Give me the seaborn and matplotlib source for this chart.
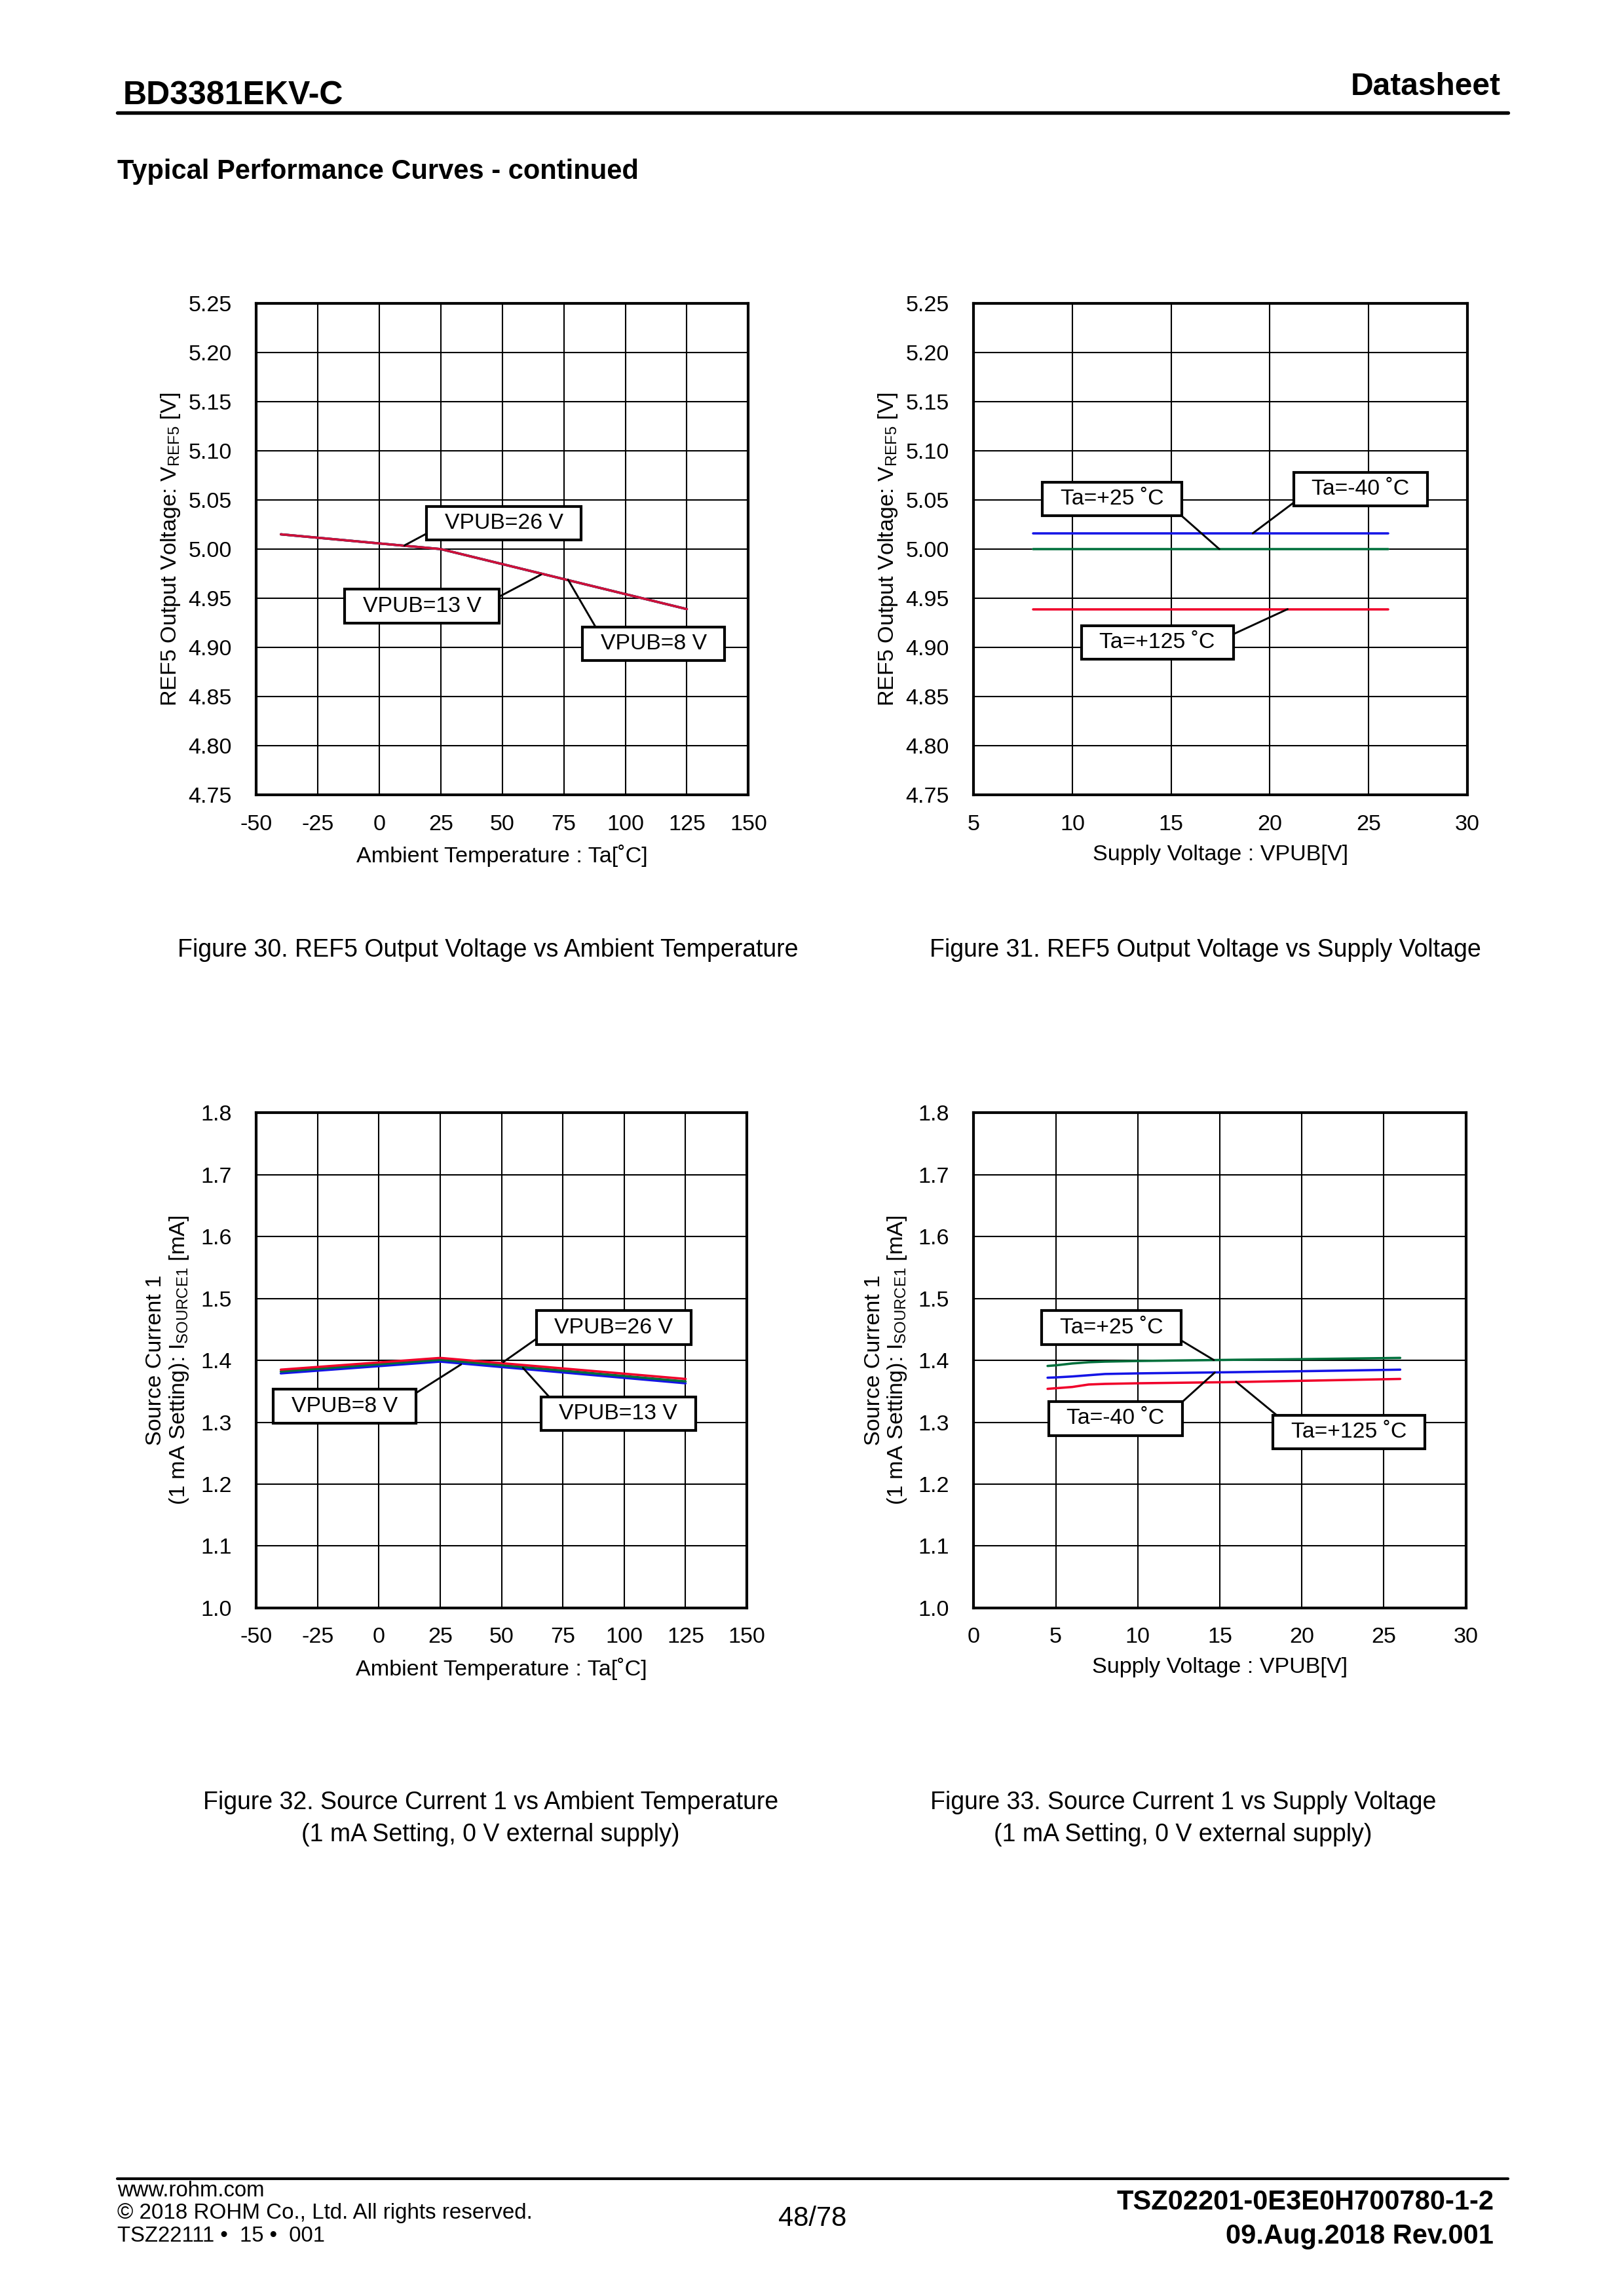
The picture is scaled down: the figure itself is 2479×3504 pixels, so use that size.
import matplotlib
matplotlib.use("Agg")
import matplotlib.pyplot as plt
import seaborn as sns
import numpy as np
from matplotlib.lines import Line2D
from matplotlib.path import Path

# ---------------- data ----------------
# Figure 30: REF5 vs Ta
ta_30 = [-40, 25, 125]
ref5_ta_8v = [5.015, 5.000, 4.939]
ref5_ta_13v = [5.015, 5.000, 4.939]
ref5_ta_26v = [5.015, 5.000, 4.939]

# Figure 31: REF5 vs VPUB
vpub_31 = [8, 13, 26]
ref5_v_m40 = [5.016, 5.016, 5.016]
ref5_v_25 = [5.000, 5.000, 5.000]
ref5_v_125 = [4.939, 4.939, 4.939]

# Figure 32: Isource1 vs Ta
ta_32 = [-40, 25, 125]
isrc_ta_8v = [1.379, 1.398, 1.363]
isrc_ta_13v = [1.382, 1.401, 1.366]
isrc_ta_26v = [1.385, 1.404, 1.370]

# Figure 33: Isource1 vs VPUB
vpub_33 = [4.5, 5, 6, 7, 8, 10, 13, 16, 20, 26]
isrc_v_25 = [1.391, 1.392, 1.395, 1.397, 1.398, 1.399, 1.400, 1.401, 1.402, 1.404]
isrc_v_m40 = [1.372, 1.3725, 1.374, 1.376, 1.378, 1.379, 1.380, 1.381, 1.3825, 1.385]
isrc_v_125 = [1.354, 1.355, 1.357, 1.361, 1.362, 1.363, 1.364, 1.365, 1.367, 1.370]

ta_ticks = [-50, -25, 0, 25, 50, 75, 100, 125, 150]
v31_ticks = [5, 10, 15, 20, 25, 30]
v33_ticks = [0, 5, 10, 15, 20, 25, 30]
ref5_ticks = [4.75, 4.80, 4.85, 4.90, 4.95, 5.00, 5.05, 5.10, 5.15, 5.20, 5.25]
isrc_ticks = [1.0, 1.1, 1.2, 1.3, 1.4, 1.5, 1.6, 1.7, 1.8]

BLUE = "#1414e6"
GREEN = "#00703c"
RED = "#f0002a"

# ---------------- style ----------------
sns.set_theme(style="white")
plt.rcParams["font.family"] = ["Liberation Sans", "DejaVu Sans"]
plt.rcParams["mathtext.default"] = "regular"
plt.rcParams["axes.unicode_minus"] = False

FS_TICK = 8.2
FS_LAB = 8.2
FS_ANN = 8.1
FS_CAP = 9.0

fig = plt.figure(figsize=(2479 / 300, 3504 / 300), dpi=300)
fig.patch.set_facecolor("white")


def wide_box(x0, y0, width, height, mutation_size):
    px = 0.82 * mutation_size
    py = 0.30 * mutation_size
    xa, ya = x0 - px, y0 - py
    xb, yb = x0 + width + px, y0 + height + py
    return Path([(xa, ya), (xb, ya), (xb, yb), (xa, yb), (xa, ya)],
                [Path.MOVETO, Path.LINETO, Path.LINETO, Path.LINETO, Path.CLOSEPOLY])


def style_axes(ax, xlim, xticks, ylim, yticks, yfmt):
    ax.set_xlim(*xlim)
    ax.set_ylim(*ylim)
    ax.set_xticks(xticks)
    ax.set_yticks(yticks)
    ax.set_xticklabels([str(t) for t in xticks])
    ax.set_yticklabels([yfmt.format(t) for t in yticks])
    ax.grid(True, color="black", lw=0.5)
    ax.set_axisbelow(True)
    for s in ax.spines.values():
        s.set_visible(True)
        s.set_color("black")
        s.set_linewidth(1.0)
    ax.tick_params(axis="both", length=0, labelsize=FS_TICK, colors="black")
    ax.tick_params(axis="x", pad=7)
    ax.tick_params(axis="y", pad=9)
    ax.set_facecolor("white")


def annot(ax, text, xy, xytext, relpos):
    ax.annotate(text, xy=xy, xytext=xytext, textcoords="data",
                ha="center", va="center", fontsize=FS_ANN, color="black",
                bbox=dict(boxstyle=wide_box, fc="white", ec="black", lw=1.0),
                arrowprops=dict(arrowstyle="-", color="black", lw=0.7,
                                shrinkA=0, shrinkB=0, relpos=relpos), zorder=5)


LW = 0.85

# ---- Figure 30 ----
ax1 = fig.add_axes([0.1578, 0.6537, 0.3030, 0.2143])
sns.lineplot(x=ta_30, y=ref5_ta_8v, ax=ax1, color=BLUE, lw=LW, legend=False)
sns.lineplot(x=ta_30, y=ref5_ta_13v, ax=ax1, color=GREEN, lw=LW, legend=False)
sns.lineplot(x=ta_30, y=ref5_ta_26v, ax=ax1, color="#d0103a", lw=LW, legend=False)
style_axes(ax1, (-50, 150), ta_ticks, (4.75, 5.25), ref5_ticks, "{:.2f}")
ax1.set_xlabel("Ambient Temperature : Ta[˚C]", fontsize=FS_LAB, color="black")
ax1.set_ylabel("REF5 Output Voltage: V$_{REF5}$ [V]", fontsize=FS_LAB, color="black")
ax1.xaxis.set_label_coords(0.5, -0.10)
ax1.yaxis.set_label_coords(-0.151, 0.5)
annot(ax1, "VPUB=26 V", (10.2, 5.0037), (50.6, 5.0265), (0.0, 0.45))
annot(ax1, "VPUB=13 V", (65.7, 4.974), (17.35, 4.942), (1.0, 0.5))
annot(ax1, "VPUB=8 V", (76.7, 4.969), (111.5, 4.904), (0.0, 0.9))

# ---- Figure 31 ----
ax2 = fig.add_axes([0.5996, 0.6537, 0.3039, 0.2143])
sns.lineplot(x=vpub_31, y=ref5_v_m40, ax=ax2, color=BLUE, lw=LW, legend=False)
sns.lineplot(x=vpub_31, y=ref5_v_25, ax=ax2, color=GREEN, lw=LW, legend=False)
sns.lineplot(x=vpub_31, y=ref5_v_125, ax=ax2, color=RED, lw=LW, legend=False)
style_axes(ax2, (5, 30), v31_ticks, (4.75, 5.25), ref5_ticks, "{:.2f}")
ax2.set_xlabel("Supply Voltage : VPUB[V]", fontsize=FS_LAB, color="black")
ax2.set_ylabel("REF5 Output Voltage: V$_{REF5}$ [V]", fontsize=FS_LAB, color="black")
ax2.xaxis.set_label_coords(0.5, -0.10)
ax2.yaxis.set_label_coords(-0.151, 0.5)
annot(ax2, "Ta=+25 ˚C", (17.44, 5.000), (12.0, 5.051), (1.0, 0.45))
annot(ax2, "Ta=-40 ˚C", (19.13, 5.016), (24.6, 5.061), (0.0, 0.5))
annot(ax2, "Ta=+125 ˚C", (20.9, 4.939), (14.3, 4.905), (1.0, 0.5))

# ---- Figure 32 ----
ax3 = fig.add_axes([0.1578, 0.2997, 0.3021, 0.2156])
sns.lineplot(x=ta_32, y=isrc_ta_8v, ax=ax3, color=BLUE, lw=LW, legend=False)
sns.lineplot(x=ta_32, y=isrc_ta_13v, ax=ax3, color=GREEN, lw=LW, legend=False)
sns.lineplot(x=ta_32, y=isrc_ta_26v, ax=ax3, color=RED, lw=LW, legend=False)
style_axes(ax3, (-50, 150), ta_ticks, (1.0, 1.8), isrc_ticks, "{:.1f}")
ax3.set_xlabel("Ambient Temperature : Ta[˚C]", fontsize=FS_LAB, color="black")
ax3.set_ylabel("Source Current 1\n(1 mA Setting): I$_{SOURCE1}$ [mA]",
               fontsize=FS_LAB, color="black", linespacing=1.1)
ax3.xaxis.set_label_coords(0.5, -0.10)
ax3.yaxis.set_label_coords(-0.134, 0.5)
annot(ax3, "VPUB=26 V", (50.7, 1.3973), (95.7, 1.453), (0.0, 0.57))
annot(ax3, "VPUB=8 V", (33.5, 1.3935), (-13.95, 1.326), (1.0, 0.58))
annot(ax3, "VPUB=13 V", (58.7, 1.388), (97.6, 1.3135), (0.0, 0.8))

# ---- Figure 33 ----
ax4 = fig.add_axes([0.5996, 0.2997, 0.3030, 0.2156])
sns.lineplot(x=vpub_33, y=isrc_v_m40, ax=ax4, color=BLUE, lw=LW, legend=False)
sns.lineplot(x=vpub_33, y=isrc_v_25, ax=ax4, color=GREEN, lw=LW, legend=False)
sns.lineplot(x=vpub_33, y=isrc_v_125, ax=ax4, color=RED, lw=LW, legend=False)
style_axes(ax4, (0, 30), v33_ticks, (1.0, 1.8), isrc_ticks, "{:.1f}")
ax4.set_xlabel("Supply Voltage : VPUB[V]", fontsize=FS_LAB, color="black")
ax4.set_ylabel("Source Current 1\n(1 mA Setting): I$_{SOURCE1}$ [mA]",
               fontsize=FS_LAB, color="black", linespacing=1.1)
ax4.xaxis.set_label_coords(0.5, -0.10)
ax4.yaxis.set_label_coords(-0.132, 0.5)
annot(ax4, "Ta=+25 ˚C", (14.64, 1.4005), (8.4, 1.453), (1.0, 0.4))
annot(ax4, "Ta=-40 ˚C", (14.70, 1.3805), (8.65, 1.306), (1.0, 0.53))
annot(ax4, "Ta=+125 ˚C", (15.99, 1.3655), (22.86, 1.284), (0.0, 0.76))

# ---------------- page text ----------------
def fy(y):  # shrunk-image y -> figure fraction
    return 1 - y / 1568.0


def fx(x):
    return x / 1109.0


fig.text(fx(84), fy(71), "BD3381EKV-C", fontsize=12, fontweight="bold",
         ha="left", va="baseline", color="black")
fig.text(fx(1025), fy(65), "Datasheet", fontsize=11.5, fontweight="bold",
         ha="right", va="baseline", color="black")
fig.add_artist(Line2D([fx(80), fx(1030)], [fy(77), fy(77)], color="black", lw=1.3))
fig.text(fx(80), fy(122), "Typical Performance Curves - continued", fontsize=10,
         fontweight="bold", ha="left", va="baseline", color="black")

fig.text(fx(333), fy(649), "Figure 30. REF5 Output Voltage vs Ambient Temperature",
         fontsize=FS_CAP, ha="center", va="center", color="black")
fig.text(fx(823), fy(649), "Figure 31. REF5 Output Voltage vs Supply Voltage",
         fontsize=FS_CAP, ha="center", va="center", color="black")
fig.text(fx(335), fy(1231), "Figure 32. Source Current 1 vs Ambient Temperature",
         fontsize=FS_CAP, ha="center", va="center", color="black")
fig.text(fx(335), fy(1253), "(1 mA Setting, 0 V external supply)",
         fontsize=FS_CAP, ha="center", va="center", color="black")
fig.text(fx(808), fy(1231), "Figure 33. Source Current 1 vs Supply Voltage",
         fontsize=FS_CAP, ha="center", va="center", color="black")
fig.text(fx(808), fy(1253), "(1 mA Setting, 0 V external supply)",
         fontsize=FS_CAP, ha="center", va="center", color="black")

fig.add_artist(Line2D([fx(80), fx(1030)], [fy(1488), fy(1488)], color="black", lw=1.0))
fig.text(fx(80), fy(1500), "www.rohm.com", fontsize=7.9, ha="left", va="baseline", color="black")
fig.text(fx(80), fy(1515), "© 2018 ROHM Co., Ltd. All rights reserved.", fontsize=7.95,
         ha="left", va="baseline", color="black")
fig.text(fx(80), fy(1531), "TSZ22111 •  15 •  001", fontsize=7.9, ha="left", va="baseline",
         color="black")
fig.text(fx(555), fy(1520), "48/78", fontsize=10, ha="center", va="baseline", color="black")
fig.text(fx(1020), fy(1509), "TSZ02201-0E3E0H700780-1-2", fontsize=10, fontweight="bold",
         ha="right", va="baseline", color="black")
fig.text(fx(1020), fy(1532), "09.Aug.2018 Rev.001", fontsize=10, fontweight="bold",
         ha="right", va="baseline", color="black")

fig.savefig("out.png", dpi=300, facecolor="white")
